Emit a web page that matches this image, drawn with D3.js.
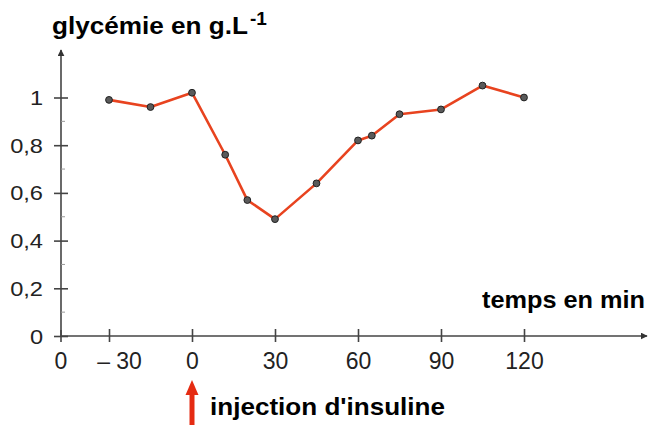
<!DOCTYPE html>
<html>
<head>
<meta charset="utf-8">
<script src="https://cdn.jsdelivr.net/npm/d3@7"></script>
<style>
  body { margin: 0; background: #fff; }
  text { font-family: "Liberation Sans", Arial, sans-serif; }
</style>
</head>
<body>
<div id="chart"></div>
<script>
// data
var times = [-30, -15, 0, 12, 20, 30, 45, 60, 65, 75, 90, 105, 120];
var glycemie = [0.99, 0.96, 1.02, 0.76, 0.57, 0.49, 0.64, 0.82, 0.84, 0.93, 0.95, 1.05, 1.0];
var xTicks = [-30, 0, 30, 60, 90, 120];
var xTickLabels = ["\u2013 30", "0", "30", "60", "90", "120"];
var yTicks = [0, 0.2, 0.4, 0.6, 0.8, 1];
var yTickLabels = ["0", "0,2", "0,4", "0,6", "0,8", "1"];

var width = 649, height = 425;
var originX = 61, originY = 336;

var svg = d3.select("#chart").append("svg")
  .attr("width", width)
  .attr("height", height);

// stretch text horizontally (the scanned labels are a bit wide)
function stretch(sel, f) {
  sel.each(function() {
    var w = this.getComputedTextLength();
    d3.select(this).attr("textLength", w * f).attr("lengthAdjust", "spacingAndGlyphs");
  });
}

// scales
var x = d3.scaleLinear().domain([-30, 120]).range([109, 524]);
var y = d3.scaleLinear().domain([0, 1]).range([originY, 97.5]);

var axisColor = "#444";

// arrow marker
svg.append("defs").append("marker")
  .attr("id", "arr")
  .attr("viewBox", "0 0 10 10")
  .attr("refX", 9).attr("refY", 5)
  .attr("markerWidth", 7).attr("markerHeight", 7)
  .attr("markerUnits", "userSpaceOnUse")
  .attr("orient", "auto")
  .append("path").attr("d", "M0,0 L10,5 L0,10 Z").attr("fill", "#333");

// axis lines
svg.append("line")
  .attr("x1", originX).attr("y1", originY).attr("x2", 647).attr("y2", originY)
  .attr("stroke", axisColor).attr("stroke-width", 1.6)
  .attr("marker-end", "url(#arr)");
svg.append("line")
  .attr("x1", originX).attr("y1", originY).attr("x2", originX).attr("y2", 50)
  .attr("stroke", axisColor).attr("stroke-width", 1.6)
  .attr("marker-end", "url(#arr)");

// y axis ticks
var yAxis = d3.axisLeft(y).tickValues(yTicks)
  .tickFormat(function(d, i) { return yTickLabels[i]; })
  .tickSizeInner(7).tickSizeOuter(0).tickPadding(11);
var gy = svg.append("g").attr("transform", "translate(" + originX + ",0)").call(yAxis);
gy.select(".domain").remove();
gy.selectAll(".tick line").attr("x1", 7).attr("x2", -7).attr("stroke", axisColor).attr("stroke-width", 1.6);
gy.selectAll(".tick text").attr("font-size", 20).attr("fill", "#222")
  .attr("font-family", "Liberation Sans, Arial, sans-serif").attr("dy", "0.35em")
  .call(stretch, 1.18);

// minor y ticks
svg.selectAll(".minor").data([0.1, 0.3, 0.5, 0.7, 0.9]).enter()
  .append("line")
  .attr("x1", originX).attr("x2", originX + 4)
  .attr("y1", function(d) { return y(d); }).attr("y2", function(d) { return y(d); })
  .attr("stroke", "#999").attr("stroke-width", 1);

// x axis ticks
var xAxis = d3.axisBottom(x).tickValues(xTicks)
  .tickFormat(function(d, i) { return xTickLabels[i]; })
  .tickSizeInner(6).tickSizeOuter(0).tickPadding(11);
var gx = svg.append("g").attr("transform", "translate(0," + originY + ")").call(xAxis);
gx.select(".domain").remove();
gx.selectAll(".tick line").attr("y1", -7).attr("y2", 6).attr("stroke", axisColor).attr("stroke-width", 1.6);
gx.selectAll(".tick text").attr("font-size", 23).attr("fill", "#222")
  .attr("font-family", "Liberation Sans, Arial, sans-serif");
gx.selectAll(".tick text").filter(function(d) { return d === -30; }).attr("x", 10);

// origin tick and label
svg.append("line")
  .attr("x1", originX).attr("x2", originX).attr("y1", originY - 6).attr("y2", originY + 6)
  .attr("stroke", axisColor).attr("stroke-width", 1.6);
svg.append("text").attr("x", originX).attr("y", originY + 17).attr("dy", "0.71em")
  .attr("text-anchor", "middle").attr("font-size", 23).attr("fill", "#222").text("0");

// curve
var pts = times.map(function(t, i) { return {t: t, v: glycemie[i]}; });
var line = d3.line()
  .x(function(d) { return x(d.t); })
  .y(function(d) { return y(d.v); });

svg.append("path")
  .datum(pts)
  .attr("d", line)
  .attr("fill", "none")
  .attr("stroke", "#e8431f")
  .attr("stroke-width", 2.6)
  .attr("stroke-linejoin", "round");

svg.selectAll(".pt").data(pts).enter()
  .append("circle")
  .attr("class", "pt")
  .attr("cx", function(d) { return x(d.t); })
  .attr("cy", function(d) { return y(d.v); })
  .attr("r", 3.4)
  .attr("fill", "#5a5a5a")
  .attr("stroke", "#222")
  .attr("stroke-width", 1);

// titles
var title = svg.append("text").attr("x", 52).attr("y", 34)
  .attr("font-weight", "bold").attr("fill", "#000");
title.append("tspan").attr("font-size", 24).attr("textLength", 196)
  .attr("lengthAdjust", "spacingAndGlyphs").text("glycémie en g.L");
title.append("tspan").attr("x", 250).attr("y", 25).attr("font-size", 19).text("-1");

svg.append("text").attr("x", 482).attr("y", 308)
  .attr("font-size", 24).attr("font-weight", "bold").attr("fill", "#000")
  .attr("textLength", 163).attr("lengthAdjust", "spacingAndGlyphs")
  .text("temps en min");

svg.append("text").attr("x", 210).attr("y", 415)
  .attr("font-size", 24).attr("font-weight", "bold").attr("fill", "#000")
  .attr("textLength", 235).attr("lengthAdjust", "spacingAndGlyphs")
  .text("injection d'insuline");

// red arrow for injection
svg.append("line")
  .attr("x1", x(0)).attr("x2", x(0)).attr("y1", 425).attr("y2", 393)
  .attr("stroke", "#e52b12").attr("stroke-width", 5);
svg.append("path")
  .attr("d", "M" + (x(0) - 6.5) + ",395 L" + x(0) + ",380 L" + (x(0) + 6.5) + ",395 Z")
  .attr("fill", "#e52b12");
</script>
</body>
</html>
